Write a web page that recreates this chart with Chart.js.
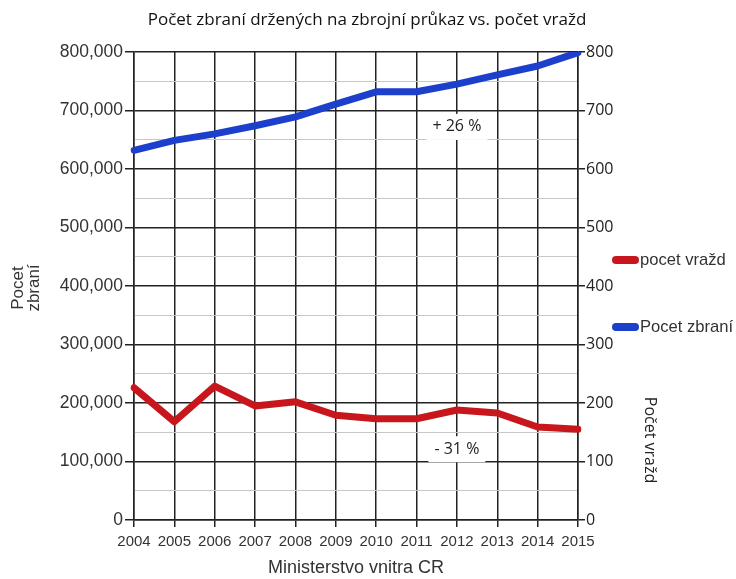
<!DOCTYPE html>
<html>
<head>
<meta charset="utf-8">
<script src="https://cdn.jsdelivr.net/npm/chart.js@4.4.1/dist/chart.umd.min.js"></script>
<style>
  html, body { margin: 0; padding: 0; background: #fff; }
  #wrap { position: relative; width: 736px; height: 579px; }
</style>
</head>
<body>
<div id="wrap"><canvas id="chart" width="736" height="579"></canvas></div>
<script>
var years = ['2004', '2005', '2006', '2007', '2008', '2009', '2010', '2011', '2012', '2013', '2014', '2015'];
var zbrani = [632000, 649000, 660000, 674000, 689000, 711000, 732000, 732000, 745000, 761000, 776000, 799000];
var vrazd = [226, 168, 229, 195, 202, 179, 173, 173, 188, 183, 159, 155];
var leftTicks = [0, 100000, 200000, 300000, 400000, 500000, 600000, 700000, 800000];
var rightTicks = [0, 100, 200, 300, 400, 500, 600, 700, 800];

var titleText = 'Počet zbraní držených na zbrojní průkaz vs. počet vražd';
var legendItems = [
  { text: 'pocet vražd', color: '#c8161d' },
  { text: 'Pocet zbraní', color: '#1c3fcc' }
];
// annotations: [label, year index, value, axis]
var notes = [
  ['+ 26 %', 8, 672000, 'y'],
  ['- 31 %', 8, 121, 'y1']
];

var DARK = '#222';
var MINOR = '#c8c8c8';
var arial = '"Liberation Sans", Arial, sans-serif';
var calib = '"Open Sans", sans-serif';

var extras = {
  id: 'extras',
  afterDatasetsDraw: function(chart) {
    var ctx = chart.ctx;
    var x = chart.scales.x;
    ctx.save();

    // annotations sit on a white box
    ctx.font = '16px ' + calib;
    ctx.textAlign = 'center';
    ctx.textBaseline = 'middle';
    notes.forEach(function(n) {
      var px = x.getPixelForValue(n[1]);
      var py = chart.scales[n[3]].getPixelForValue(n[2]);
      var w = ctx.measureText(n[0]).width + 12;
      ctx.fillStyle = '#fff';
      ctx.fillRect(px - w / 2, py - 13, w, 26);
      ctx.fillStyle = DARK;
      ctx.fillText(n[0], px, py);
    });

    // title
    ctx.font = '17px ' + calib;
    ctx.fillStyle = '#111';
    ctx.fillText(titleText, 367, 20);

    // x title
    ctx.font = '18px ' + arial;
    ctx.fillStyle = '#333';
    ctx.fillText('Ministerstvo vnitra CR', 356, 568);

    // left y title, two lines
    ctx.save();
    ctx.translate(26, 288);
    ctx.rotate(-Math.PI / 2);
    ctx.font = '17px ' + arial;
    ctx.fillText('Pocet', 0, -8);
    ctx.fillText('zbraní', 0, 8);
    ctx.restore();

    // right y title
    ctx.save();
    ctx.translate(650, 440);
    ctx.rotate(Math.PI / 2);
    ctx.font = '16px ' + calib;
    ctx.fillStyle = '#222';
    ctx.fillText('Počet vražd', 0, 0);
    ctx.restore();

    // legend
    ctx.textAlign = 'left';
    ctx.font = '16.6px ' + arial;
    legendItems.forEach(function(it, i) {
      var ly = 260 + i * 67;
      ctx.strokeStyle = it.color;
      ctx.lineWidth = 8;
      ctx.lineCap = 'round';
      ctx.beginPath();
      ctx.moveTo(616, ly);
      ctx.lineTo(635, ly);
      ctx.stroke();
      ctx.fillStyle = '#333';
      ctx.fillText(it.text, 640, ly);
    });
    ctx.restore();
  }
};

function majorColor(step, on, off) {
  return function(c) {
    if (!c.tick) return on;
    return c.tick.value % step === 0 ? on : off;
  };
}

new Chart(document.getElementById('chart'), {
  type: 'line',
  data: {
    labels: years,
    datasets: [
      {
        label: 'pocet vražd',
        data: vrazd,
        yAxisID: 'y1',
        borderColor: '#c8161d',
        borderWidth: 7,
        pointRadius: 0,
        tension: 0,
        borderCapStyle: 'round',
        borderJoinStyle: 'round'
      },
      {
        label: 'Pocet zbraní',
        data: zbrani,
        yAxisID: 'y',
        borderColor: '#1c3fcc',
        borderWidth: 7,
        pointRadius: 0,
        tension: 0,
        borderCapStyle: 'round',
        borderJoinStyle: 'round'
      }
    ]
  },
  options: {
    responsive: false,
    animation: false,
    layout: { padding: { top: 52, left: 0, right: 0, bottom: 0 } },
    plugins: {
      legend: { display: false },
      title: { display: false },
      tooltip: { enabled: false }
    },
    scales: {
      x: {
        offset: false,
        afterFit: function(s) { s.height = 59; },
        grid: { color: DARK, lineWidth: 1.5, tickLength: 7, tickColor: DARK },
        border: { color: DARK, width: 1.5 },
        ticks: { color: '#333', font: { family: arial, size: 15 }, padding: 6, maxRotation: 0, autoSkip: false }
      },
      y: {
        position: 'left',
        min: 0,
        max: 800000,
        afterFit: function(s) { s.width = 134; },
        afterBuildTicks: function(s) {
          var t = [];
          for (var i = 0; i < leftTicks.length; i++) {
            t.push({ value: leftTicks[i] });
            if (i < leftTicks.length - 1) t.push({ value: leftTicks[i] + 50000 });
          }
          s.ticks = t;
        },
        grid: {
          color: majorColor(100000, DARK, MINOR),
          lineWidth: majorColor(100000, 1.5, 1),
          tickLength: 9,
          tickColor: majorColor(100000, DARK, 'rgba(0,0,0,0)')
        },
        border: { color: DARK, width: 1.5 },
        ticks: {
          color: '#333',
          font: { family: arial, size: 17.5 },
          padding: 2,
          callback: function(v) { return v % 100000 === 0 ? v.toLocaleString('en-US') : ''; }
        }
      },
      y1: {
        position: 'right',
        min: 0,
        max: 800,
        afterFit: function(s) { s.width = 158; },
        afterBuildTicks: function(s) {
          s.ticks = rightTicks.map(function(v) { return { value: v }; });
        },
        grid: { drawOnChartArea: false, tickLength: 7, tickColor: DARK, lineWidth: 1.5 },
        border: { color: DARK, width: 1.5 },
        ticks: {
          color: '#222',
          font: { family: calib, size: 16 },
          padding: 1,
          callback: function(v) { return String(v); }
        }
      }
    }
  },
  plugins: [extras]
});
</script>
</body>
</html>
